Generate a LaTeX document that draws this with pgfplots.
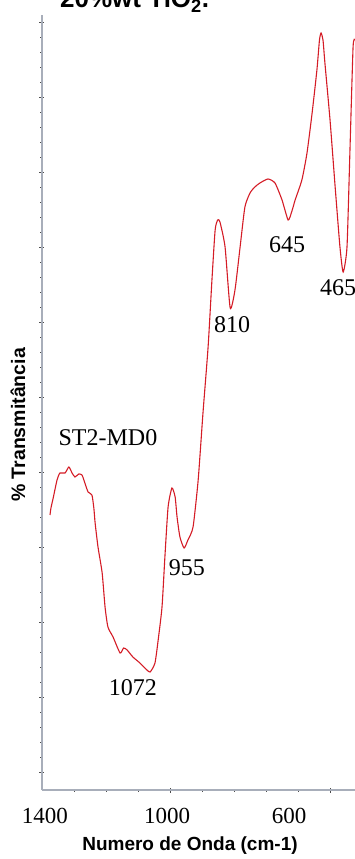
\documentclass[border=0pt]{standalone}
\usepackage{pgfplots}
\pgfplotsset{compat=1.18}
\usepackage{fontspec}
\setmainfont{Liberation Serif}
\newfontfamily\arialb{Liberation Sans}[BoldFont={Liberation Sans Bold}]
\definecolor{axisgray}{RGB}{168,174,186}
\definecolor{curvered}{RGB}{212,28,38}
\begin{document}
\begin{tikzpicture}
\begin{axis}[
  at={(0,0)}, anchor=south west,
  width=313pt, height=775pt, scale only axis,
  x dir=reverse, xmin=422, xmax=1400, ymin=0, ymax=775,
  axis lines*=left, clip=false,
  axis line style={axisgray, line width=2.4pt},
  xtick={1000,500}, minor xtick={1300,1200,1100,900,800,700,600},
  ytick={18,93,...,768}, minor y tick num=4,
  xticklabels={}, yticklabels={},
  tick align=center,
  major tick length=5pt, minor tick length=3pt,
  every tick/.style={black!70, line width=0.9pt},
]
\addplot[curvered, line width=1.1pt, smooth, tension=0.35] coordinates {
(1375,275) (1372,282) (1365,292) (1353,310) (1344,317) (1328,317) (1316,323) (1306,317)
(1297,313) (1285,316) (1275,315) (1266,307) (1256,298) (1244,295) (1238,282) (1234,267) (1225,243)
(1212,217) (1203,183) (1194,163) (1178,153) (1156,137) (1145,142) (1134,140) (1116,133)
(1094,127) (1072,120) (1062,118) (1047,127) (1037,150) (1025,183) (1016,233)
(1006,283) (994,302) (984,293) (978,273) (969,253) (956,242) (944,250)
(928,263) (912,310) (897,377) (881,443) (869,510) (859,560) (851,570) (844,568)
(828,543) (812,482) (797,500) (781,543) (766,583) (750,597) (735,603) (719,607)
(694,611) (672,607) (650,590) (631,570) (620,578) (609,590) (588,610) (572,637)
(556,677) (541,720) (533,750) (528,757) (522,750) (516,727) (500,670) (484,603) (469,543)
(459,518) (447,543) (438,637) (428,743) (422,750)
};
\node[font=\fontsize{24pt}{26pt}\selectfont] at (axis cs:1194,352) {ST2-MD0};
\node[font=\fontsize{24pt}{26pt}\selectfont] at (axis cs:1116,102) {1072};
\node[font=\fontsize{24pt}{26pt}\selectfont] at (axis cs:947,222) {955};
\node[font=\fontsize{24pt}{26pt}\selectfont] at (axis cs:806,465) {810};
\node[font=\fontsize{24pt}{26pt}\selectfont] at (axis cs:634,545) {645};
\node[font=\fontsize{24pt}{26pt}\selectfont] at (axis cs:475,502) {465};
\node[font=\fontsize{23pt}{25pt}\selectfont, anchor=base] at (axis cs:1391,-33) {1400};
\node[font=\fontsize{23pt}{25pt}\selectfont, anchor=base] at (axis cs:1009,-33) {1000};
\node[font=\fontsize{23pt}{25pt}\selectfont, anchor=base] at (axis cs:628,-33) {600};
\end{axis}
\node[font=\arialb\bfseries\fontsize{19pt}{21pt}\selectfont, anchor=base] at (148pt,-60pt) {Numero de Onda (cm-1)};
\node[font=\arialb\bfseries\fontsize{19.5pt}{21pt}\selectfont, rotate=90] at (-24pt,365pt) {\% Transmitância};
\node[font=\arialb\bfseries\fontsize{26pt}{28pt}\selectfont, anchor=base west, inner sep=0pt] at (18pt,782pt) {20\%wt TiO\textsubscript{2}.};
\pgfresetboundingbox
\useasboundingbox (-42pt,-69pt) rectangle (313pt,790pt);
\end{tikzpicture}
\end{document}
